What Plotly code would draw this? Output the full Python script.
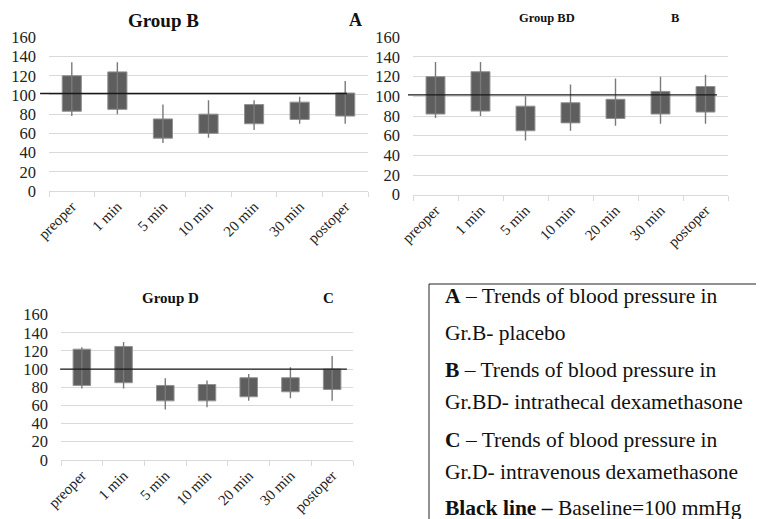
import plotly.graph_objects as go

categories = ["preoper", "1 min", "5 min", "10 min", "20 min", "30 min", "postoper"]

# Group B (placebo)
b_low = [78, 80, 50, 55.5, 63.5, 70, 70]
b_box_low = [83, 85, 55, 60, 70, 74.5, 78]
b_box_high = [120, 124, 75, 80, 90, 92.5, 102]
b_high = [134, 134, 90, 94.5, 94.5, 98, 114.5]

# Group BD (intrathecal dexamethasone)
bd_low = [78, 80, 55, 65, 70, 72, 72]
bd_box_low = [82, 85, 65, 73, 77.5, 82, 84]
bd_box_high = [120, 125, 90, 93.5, 97, 105, 110]
bd_high = [135, 135, 100, 112, 118, 120, 122]

# Group D (intravenous dexamethasone)
d_low = [78.5, 78.5, 55.5, 58, 65, 68, 65]
d_box_low = [82, 85, 65, 65, 69.5, 75, 77.5]
d_box_high = [122, 125, 82, 83, 90.5, 90.5, 100]
d_high = [124, 130, 90, 87.5, 94.5, 102, 114.5]

baselines = [101.5, 101.5, 100]
y_ticks = [0, 20, 40, 60, 80, 100, 120, 140, 160]

groups = [
    (b_low, b_box_low, b_box_high, b_high),
    (bd_low, bd_box_low, bd_box_high, bd_high),
    (d_low, d_box_low, d_box_high, d_high),
]

# page body has an 8px margin: lay out in window pixels, convert to figure paper coords
OFF = 8
W, H = 764 - OFF, 519 - OFF
def px(x):
    return (x - OFF) / W
def py(y):
    return 1 - (y - OFF) / H

domains = [
    ([px(49), px(368)], [py(191), py(37.3)]),
    ([px(413), px(728)], [py(194.7), py(37.3)]),
    ([px(61), px(353)], [py(459.8), py(314.7)]),
]
line_ext = [(-0.028, 0.934), (-0.016, 0.965), (-0.003, 0.979)]

SERIF = "Liberation Serif, Times New Roman, serif"
fig = go.Figure()

for i, (lo, bl, bh, hi) in enumerate(groups):
    sfx = "" if i == 0 else str(i + 1)
    xa, ya = "x" + sfx, "y" + sfx
    wx, wy = [], []
    for c, l, h in zip(categories, lo, hi):
        wx += [c, c, None]
        wy += [l, h, None]
    fig.add_trace(go.Scatter(x=wx, y=wy, mode="lines",
                             line=dict(color="#7a7a7a", width=1.4),
                             xaxis=xa, yaxis=ya, showlegend=False, hoverinfo="skip"))
    fig.add_trace(go.Bar(x=categories, y=[h - l for l, h in zip(bl, bh)], base=bl,
                         width=0.42, marker=dict(color="#5e5e5e", line=dict(color="#929292", width=1)),
                         xaxis=xa, yaxis=ya, showlegend=False))
    x0, x1 = line_ext[i]
    fig.add_shape(type="line", xref=xa + " domain", yref=ya, x0=x0, x1=x1,
                  y0=baselines[i], y1=baselines[i],
                  line=dict(color="#1a1a1a", width=1.3), layer="above")
    xd, yd = domains[i]
    fig.update_layout(**{
        "xaxis" + sfx: dict(domain=xd, anchor=ya, type="category", range=[-0.5, 6.5],
                            categoryorder="array", categoryarray=categories,
                            showline=True, linecolor="#d9d9d9", linewidth=1,
                            ticks="outside", tickson="boundaries", ticklen=5, tickcolor="#d9d9d9",
                            tickangle=-45, showgrid=False, zeroline=False, automargin=False,
                            tickfont=dict(family=SERIF, size=15, color="#222")),
        "yaxis" + sfx: dict(domain=yd, anchor=xa, range=[0, 160], tickvals=y_ticks,
                            showgrid=True, gridcolor="#d9d9d9", gridwidth=1, zeroline=False,
                            showline=False, ticks="", ticklabelstandoff=12, automargin=False,
                            tickfont=dict(family=SERIF, size=16.5, color="#222")),
    })

titles = [
    ("<b>Group B</b>", 163, 20, 19), ("<b>A</b>", 355, 20, 18),
    ("<b>Group BD</b>", 547, 18, 12.5), ("<b>B</b>", 675, 18, 12.5),
    ("<b>Group D</b>", 170, 298, 15), ("<b>C</b>", 328, 298, 15),
]
for t, x, y, s in titles:
    fig.add_annotation(text=t, x=px(x), y=py(y), xref="paper", yref="paper",
                       showarrow=False, xanchor="center", yanchor="middle",
                       font=dict(family=SERIF, size=s, color="#111"))

fig.add_shape(type="rect", xref="paper", yref="paper", x0=px(429), x1=1.05, y0=-0.05, y1=py(284),
              line=dict(color="#222", width=1), fillcolor="rgba(0,0,0,0)")

box_lines = [
    ("<b>A</b> – Trends of blood pressure in", 296),
    ("Gr.B- placebo", 333),
    ("<b>B</b> – Trends of blood pressure in", 370),
    ("Gr.BD- intrathecal dexamethasone", 402),
    ("<b>C</b> – Trends of blood pressure in", 440),
    ("Gr.D- intravenous dexamethasone", 472),
    ("<b>Black line –</b> Baseline=100 mmHg", 508),
]
for t, y in box_lines:
    fig.add_annotation(text=t, x=px(443), y=py(y), xref="paper", yref="paper",
                       showarrow=False, xanchor="left", yanchor="middle",
                       font=dict(family=SERIF, size=21.5, color="#111"))

fig.update_layout(width=W, height=H, margin=dict(l=0, r=0, t=0, b=0, autoexpand=False),
                  template="none",
                  paper_bgcolor="white", plot_bgcolor="white", barmode="overlay")

fig.write_html("out.html")
